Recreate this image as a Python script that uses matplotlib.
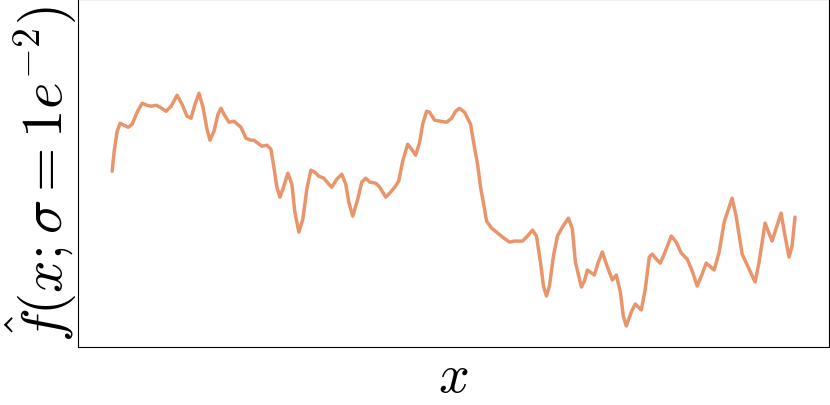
import matplotlib
matplotlib.use("Agg")
import matplotlib.pyplot as plt

plt.rcParams["mathtext.fontset"] = "cm"

# sample positions (arbitrary units) and the smoothed estimate
x = [0, 2, 5, 8, 12, 16, 20, 25, 30, 35, 39, 44, 48, 54, 59, 65, 70, 75, 79, 83,
     87, 91, 95, 98, 102, 106, 109, 112, 117, 122, 129, 134, 139, 142, 146, 150, 155, 159, 162, 165,
     168, 171, 176, 180, 183, 187, 191, 195, 199, 203, 207, 212, 217, 220, 225, 230, 234, 237, 241, 246,
     250, 254, 258, 264, 268, 274, 278, 283, 287, 291, 296, 300, 304, 308, 311, 315, 318, 323, 329, 335,
     340, 344, 348, 353, 359, 362, 366, 369, 373, 375, 380, 385, 391, 398, 403, 411, 416, 421, 425, 429,
     432, 435, 438, 442, 446, 451, 457, 461, 464, 470, 473, 476, 483, 487, 491, 495, 501, 505, 509, 512,
     515, 520, 524, 530, 534, 538, 541, 545, 549, 553, 560, 565, 570, 576, 581, 586, 591, 595, 603, 608,
     613, 621, 625, 631, 638, 644, 648, 654, 661, 670, 674, 678, 681, 684]
f_hat = [0.78, 0.98, 1.18, 1.26, 1.24, 1.22, 1.25, 1.37, 1.46, 1.44, 1.43, 1.44, 1.42, 1.38, 1.43, 1.54, 1.45, 1.33, 1.31, 1.45,
         1.56, 1.42, 1.20, 1.09, 1.18, 1.35, 1.41, 1.35, 1.27, 1.28, 1.22, 1.11, 1.09, 1.09, 1.06, 1.03, 1.04, 1.00, 0.82, 0.62,
         0.52, 0.60, 0.76, 0.65, 0.37, 0.17, 0.30, 0.60, 0.79, 0.77, 0.73, 0.71, 0.65, 0.62, 0.70, 0.75, 0.65, 0.47, 0.33, 0.50,
         0.67, 0.71, 0.67, 0.66, 0.62, 0.52, 0.56, 0.62, 0.68, 0.88, 1.05, 1.00, 0.94, 1.07, 1.25, 1.38, 1.37, 1.29, 1.28, 1.27,
         1.31, 1.38, 1.41, 1.37, 1.25, 1.07, 0.85, 0.62, 0.40, 0.28, 0.21, 0.17, 0.12, 0.07, 0.08, 0.08, 0.13, 0.19, 0.13, -0.13,
         -0.37, -0.47, -0.37, -0.07, 0.13, 0.22, 0.31, 0.20, -0.13, -0.38, -0.32, -0.21, -0.26, -0.13, -0.03, -0.15, -0.31, -0.26, -0.43, -0.67,
         -0.77, -0.63, -0.55, -0.61, -0.40, -0.08, -0.05, -0.10, -0.14, -0.05, 0.13, 0.07, -0.04, -0.10, -0.22, -0.37, -0.25, -0.14, -0.21, -0.03,
         0.27, 0.51, 0.33, -0.05, -0.20, -0.33, -0.13, 0.26, 0.08, 0.36, 0.13, -0.08, 0.03, 0.32]

fig = plt.figure(figsize=(8.3, 4.06), dpi=100)
ax = fig.add_axes([0.094, 0.143, 0.905, 0.856])
ax.plot(x, f_hat, color="#E9956B", lw=2.5, solid_capstyle="round", solid_joinstyle="round")
ax.set_ylim(-0.98, 2.5)
ax.set_xticks([]); ax.set_yticks([])
ax.set_xlabel(r"$x$", fontsize=39, labelpad=2)
ax.set_ylabel(r"$\hat{f}(x;\sigma=1e^{-2})$", fontsize=41, labelpad=0)
fig.savefig("out.png", dpi=100)
